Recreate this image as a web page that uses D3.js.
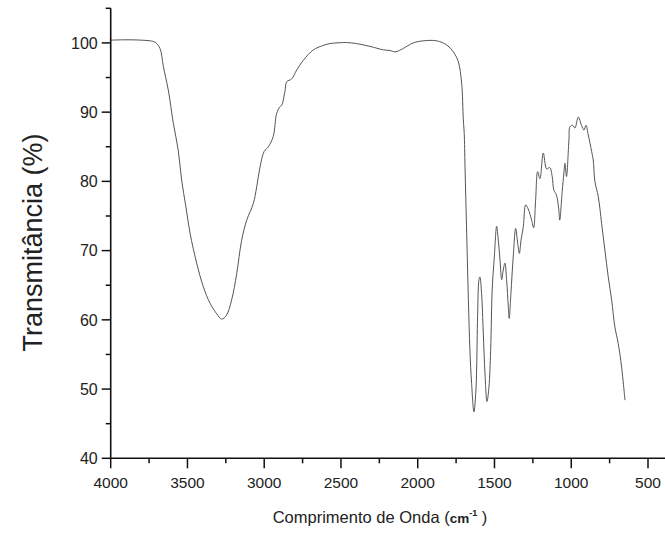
<!DOCTYPE html>
<html>
<head>
<meta charset="utf-8">
<script src="https://cdn.jsdelivr.net/npm/d3@7"></script>
<style>
  html, body { margin: 0; padding: 0; background: #fff; }
  svg { display: block; }
  text { font-family: "Liberation Sans", Arial, sans-serif; fill: #222; }
</style>
</head>
<body>
<svg id="chart" width="665" height="534"></svg>
<script>
// Wavenumber (cm-1) and transmittance (%)
const wavenumber = [
  4000, 3900, 3800, 3744, 3711, 3679, 3657, 3625, 3592, 3560, 3538, 3510, 3483, 3440, 3397, 3353,
  3310, 3277, 3245, 3212, 3179, 3147, 3114, 3071, 3049, 3027, 3001, 2973, 2941, 2919, 2897, 2886,
  2865, 2853, 2821, 2788, 2745, 2680, 2620, 2572, 2463, 2398, 2311, 2224, 2180, 2148, 2120, 2094,
  2029, 1964, 1876, 1811, 1768, 1736, 1714, 1703, 1697, 1692, 1681, 1670, 1660, 1649, 1634, 1622,
  1616, 1610, 1601, 1595, 1584, 1573, 1562, 1549, 1536, 1525, 1515, 1501, 1486, 1475, 1464, 1453,
  1443, 1432, 1421, 1410, 1404, 1393, 1378, 1362, 1349, 1338, 1327, 1312, 1297, 1280, 1258, 1245,
  1232, 1219, 1204, 1182, 1160, 1140, 1124, 1114, 1096, 1081, 1075, 1059, 1048, 1041, 1031, 1015,
  1008, 991, 976, 954, 933, 917, 904, 889, 867, 857, 846, 824, 802, 781, 759, 737,
  716, 694, 672, 650
];
const transmittance = [
  100.4, 100.45, 100.4, 100.3, 100.1, 99.2, 96.6, 93.2, 88.4, 84.5, 80.2, 76.3, 72.5, 68.2, 64.8, 62.4,
  60.9, 60.1, 60.7, 62.9, 66.7, 71.5, 74.4, 76.8, 79.2, 82.1, 84.3, 85.0, 86.5, 89.8, 90.8, 91.0,
  93.0, 94.4, 94.8, 96.1, 97.5, 99.0, 99.6, 99.9, 100.05, 99.9, 99.5, 99.0, 98.9, 98.7, 98.9, 99.2,
  100.0, 100.3, 100.3, 99.7, 98.7, 97.3, 94.2, 88.9, 86.9, 82.1, 72.5, 62.9, 55.6, 50.8, 46.7, 49.4,
  53.2, 60.5, 65.8, 66.2, 63.8, 58.1, 52.3, 48.2, 50.3, 55.6, 64.3, 69.1, 73.5, 71.5, 68.6, 65.8,
  67.2, 68.2, 65.8, 61.9, 60.2, 63.8, 69.1, 73.2, 71.1, 69.6, 71.5, 73.5, 76.6, 76.0, 74.4, 73.3,
  77.3, 81.4, 80.4, 84.1, 81.8, 82.0, 80.7, 78.8, 78.0, 75.9, 74.4, 78.5, 81.2, 82.6, 80.7, 86.0,
  87.9, 88.1, 87.7, 89.3, 88.1, 87.4, 88.1, 86.7, 84.3, 83.1, 80.0, 77.8, 73.9, 70.1, 66.2, 62.9,
  59.0, 56.6, 53.2, 48.4
];
const xMajorTicks = [4000, 3500, 3000, 2500, 2000, 1500, 1000, 500];
const xMinorTicks = [3750, 3250, 2750, 2250, 1750, 1250, 750];
const yMajorTicks = [40, 50, 60, 70, 80, 90, 100];
const yMinorTicks = [45, 55, 65, 75, 85, 95, 105];
const xTitle = "Comprimento de Onda (";
const yTitle = "Transmitância (%)";

const svg = d3.select("#chart");
const x = d3.scaleLinear().domain([4000, 500]).range([110.7, 648]);
const y = d3.scaleLinear().domain([40, 105]).range([458.3, 8.3]);
const xEnd = 665;

// spectrum line
const line = d3.line().x((d, i) => x(wavenumber[i])).y(d => y(d)).curve(d3.curveCatmullRom.alpha(0.5));
svg.append("path")
  .datum(transmittance)
  .attr("d", line)
  .attr("fill", "none")
  .attr("stroke", "#555")
  .attr("stroke-width", 1);

// X axis
const gx = svg.append("g").attr("transform", `translate(0,${y(40)})`);
gx.append("line").attr("x1", x(4000)).attr("x2", xEnd).attr("stroke", "#111").attr("stroke-width", 1.6);
gx.selectAll(".xmaj").data(xMajorTicks).join("line")
  .attr("x1", d => x(d)).attr("x2", d => x(d)).attr("y1", 0).attr("y2", 10)
  .attr("stroke", "#111").attr("stroke-width", 1.5);
gx.selectAll(".xmin").data(xMinorTicks).join("line")
  .attr("x1", d => x(d)).attr("x2", d => x(d)).attr("y1", 0).attr("y2", 5)
  .attr("stroke", "#111").attr("stroke-width", 1.5);
gx.selectAll(".xlab").data(xMajorTicks).join("text")
  .attr("x", d => x(d)).attr("y", 30)
  .attr("text-anchor", "middle").attr("font-size", 15.5)
  .text(d => d);

// Y axis
const gy = svg.append("g").attr("transform", `translate(${x(4000)},0)`);
gy.append("line").attr("y1", y(105)).attr("y2", y(40)).attr("stroke", "#111").attr("stroke-width", 1.6);
gy.selectAll(".ymaj").data(yMajorTicks).join("line")
  .attr("x1", -9).attr("x2", 0).attr("y1", d => y(d)).attr("y2", d => y(d))
  .attr("stroke", "#111").attr("stroke-width", 1.5);
gy.selectAll(".ymin").data(yMinorTicks).join("line")
  .attr("x1", -5).attr("x2", 0).attr("y1", d => y(d)).attr("y2", d => y(d))
  .attr("stroke", "#111").attr("stroke-width", 1.5);
gy.selectAll(".ylab").data(yMajorTicks).join("text")
  .attr("x", -13).attr("y", d => y(d)).attr("dy", "0.36em")
  .attr("text-anchor", "end").attr("font-size", 16)
  .text(d => d);

// Titles
svg.append("text")
  .attr("transform", "translate(42,242.5) rotate(-90)")
  .attr("text-anchor", "middle").attr("font-size", 27)
  .text(yTitle);

const xt = svg.append("text")
  .attr("x", 380).attr("y", 523)
  .attr("text-anchor", "middle").attr("font-size", 16.5);
xt.append("tspan").text(xTitle);
xt.append("tspan").attr("font-weight", "bold").attr("font-size", 13.5).text("cm");
xt.append("tspan").attr("font-weight", "bold").attr("font-size", 9).attr("dy", -7).text("-1");
xt.append("tspan").attr("dy", 7).text(" )");
</script>
</body>
</html>
